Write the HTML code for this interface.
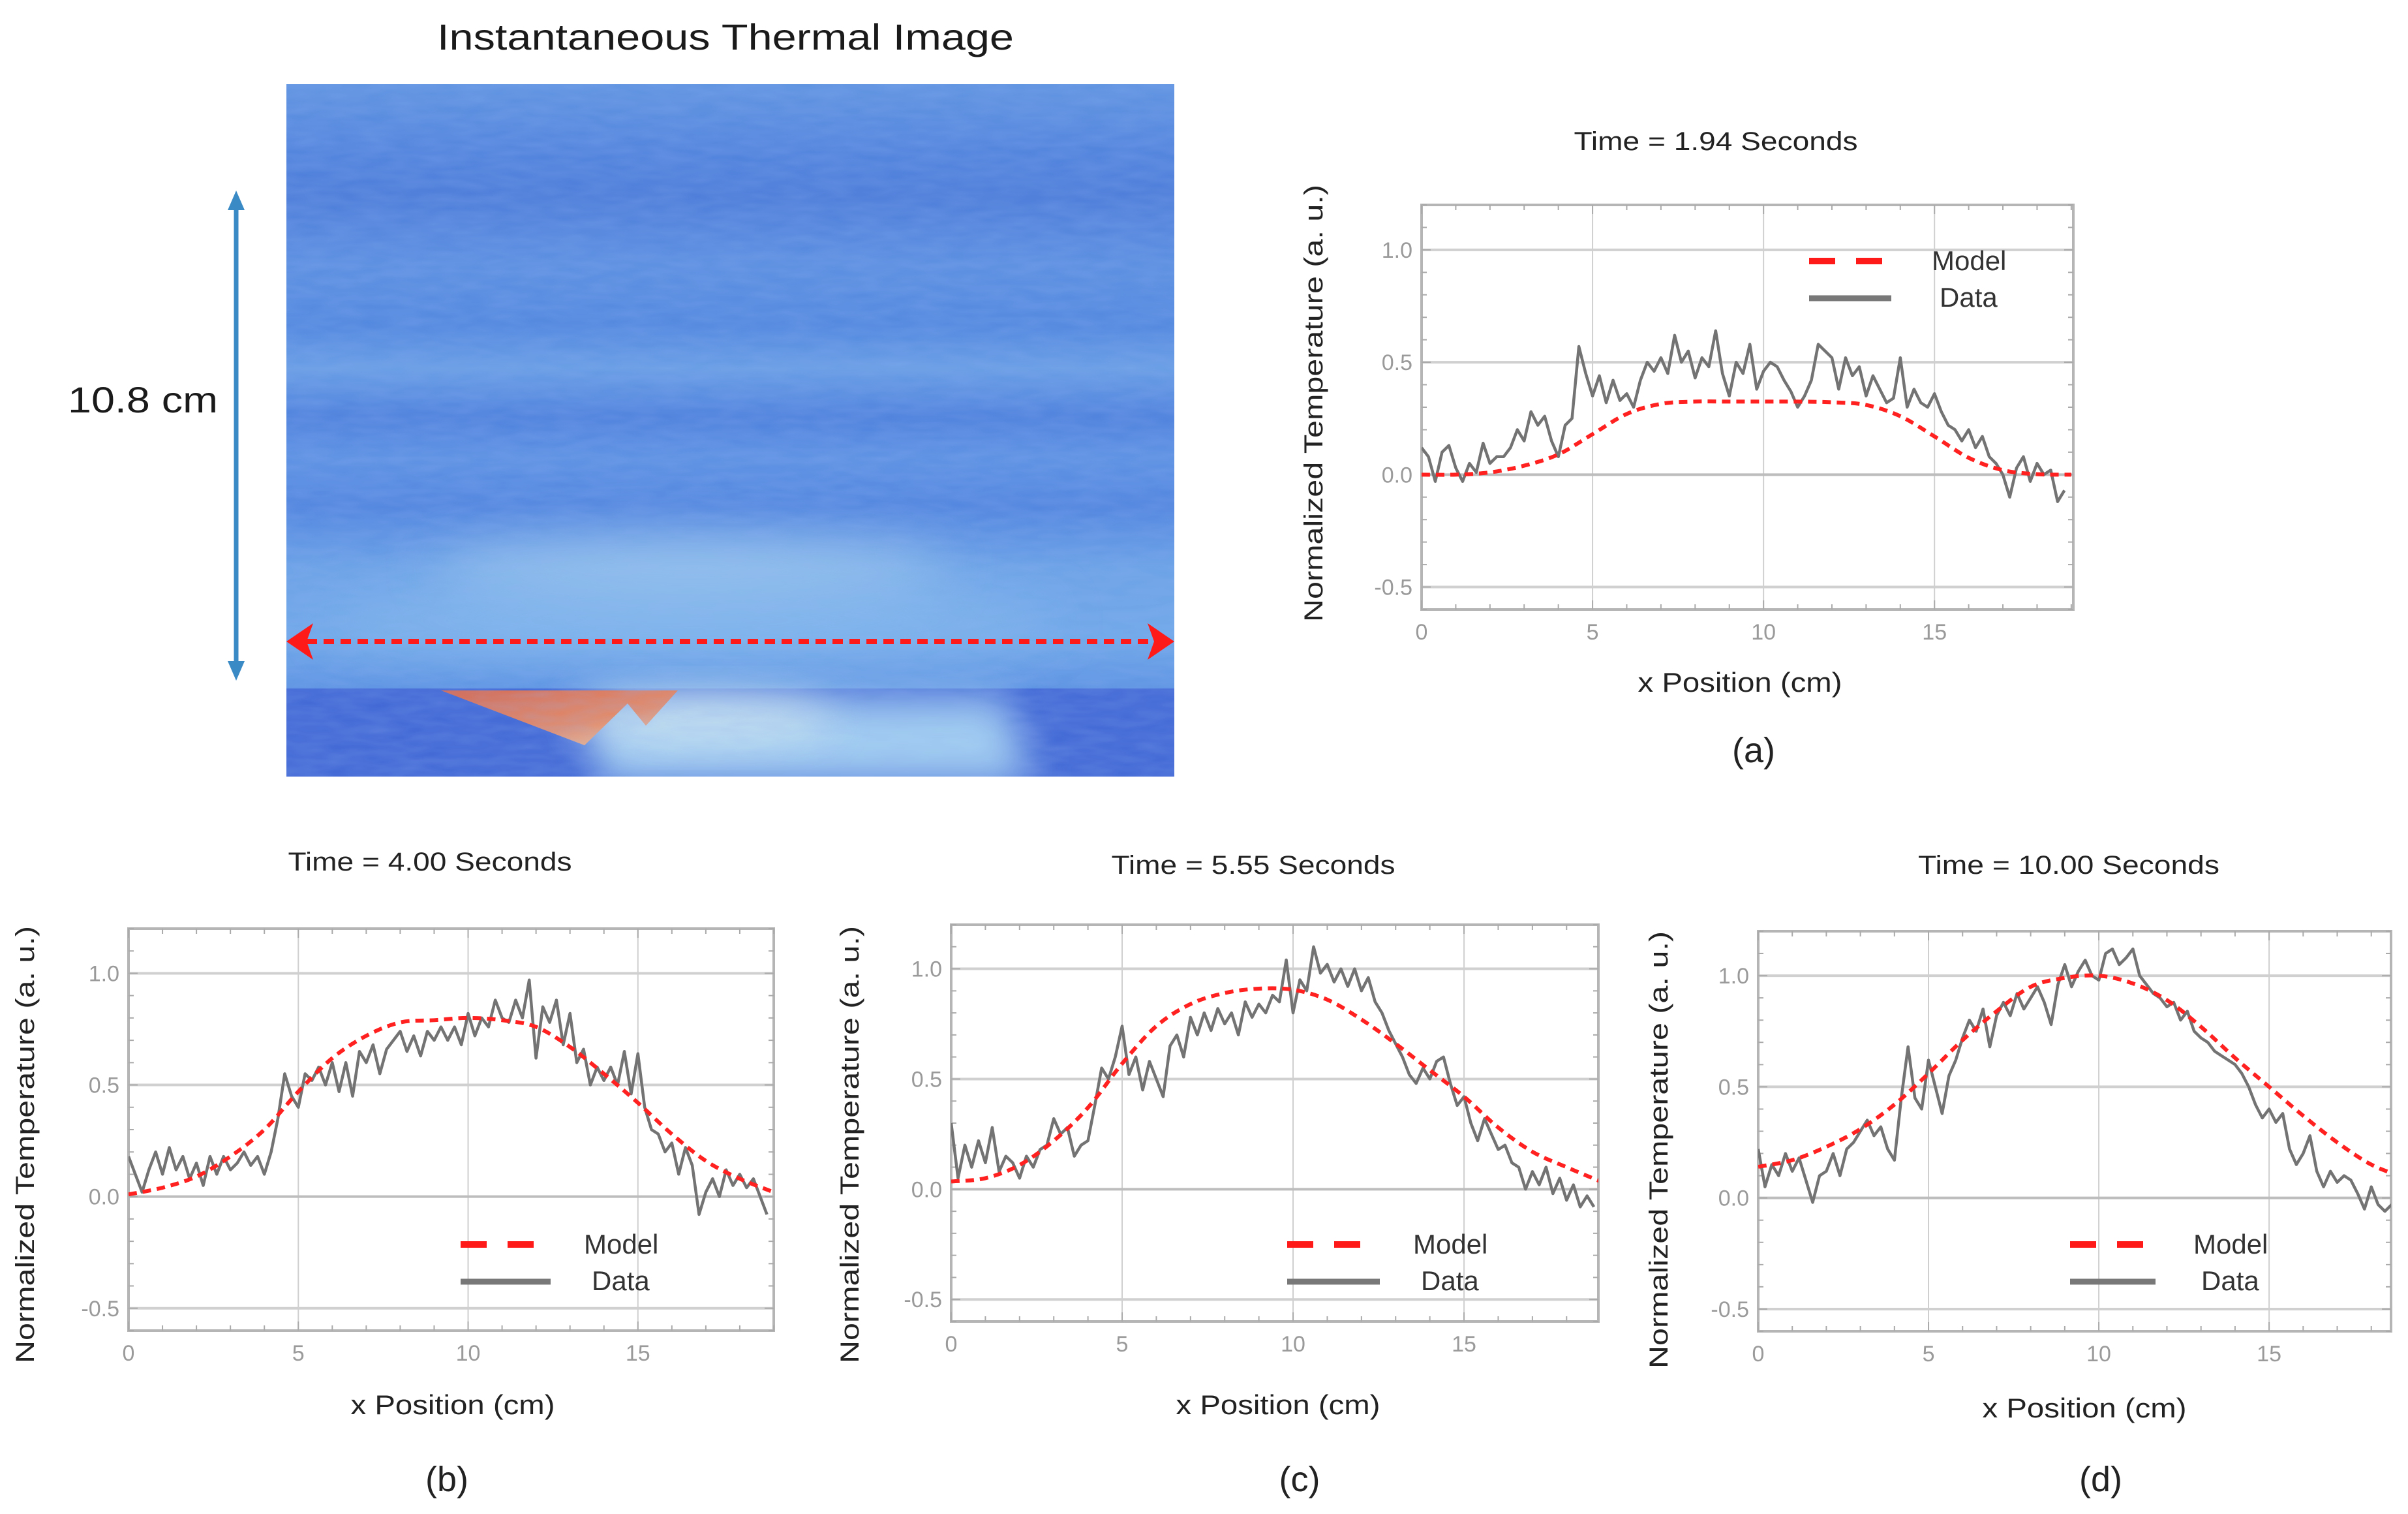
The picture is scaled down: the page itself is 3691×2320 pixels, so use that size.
<!DOCTYPE html>
<html><head><meta charset="utf-8"><style>
html,body{margin:0;padding:0;background:#fff;}
svg{display:block;font-family:"Liberation Sans",sans-serif;}
</style></head><body>
<svg id="fig" width="3691" height="2320" viewBox="0 0 3691 2320" xmlns="http://www.w3.org/2000/svg">
<defs>
<linearGradient id="bgGrad" x1="0" y1="0" x2="0" y2="1">
<stop offset="0" stop-color="#5e93e0"/><stop offset="0.1" stop-color="#4f82dc"/><stop offset="0.16" stop-color="#4a7bd8"/>
<stop offset="0.26" stop-color="#5a8ee0"/><stop offset="0.35" stop-color="#5087de"/><stop offset="0.41" stop-color="#679de4"/>
<stop offset="0.48" stop-color="#4c80dc"/><stop offset="0.54" stop-color="#5b90e2"/><stop offset="0.61" stop-color="#4f84de"/>
<stop offset="0.7" stop-color="#6aa2e6"/><stop offset="0.8" stop-color="#6fa8e8"/><stop offset="0.87" stop-color="#5b93e2"/>
<stop offset="0.9" stop-color="#4a80dc"/><stop offset="1" stop-color="#4a80dc"/>
</linearGradient>
<linearGradient id="hotGrad" x1="0" y1="0" x2="1" y2="1">
<stop offset="0" stop-color="#d8654a"/><stop offset="0.6" stop-color="#e58a66"/><stop offset="1" stop-color="#f4cfa8"/>
</linearGradient>
<filter id="blur1" x="-50%" y="-100%" width="200%" height="300%"><feGaussianBlur stdDeviation="40"/></filter>
<filter id="blur2" x="-30%" y="-50%" width="160%" height="200%"><feGaussianBlur stdDeviation="30"/></filter>
<filter id="noise" x="0" y="0" width="100%" height="100%">
<feTurbulence type="fractalNoise" baseFrequency="0.02 0.08" numOctaves="2" seed="3"/>
<feColorMatrix values="0 0 0 0 0.3  0 0 0 0 0.45  0 0 0 0 0.9  0 0 0 0.3 0"/>
</filter>
<clipPath id="imgClip"><rect x="439" y="129" width="1361" height="1061"/></clipPath>
</defs>

<text x="1112" y="76" font-size="56" text-anchor="middle" fill="#1a1a1a" textLength="884" lengthAdjust="spacingAndGlyphs">Instantaneous Thermal Image</text>

<g clip-path="url(#imgClip)">
<rect x="439" y="129" width="1361" height="1061" fill="url(#bgGrad)"/>
<ellipse cx="1060" cy="870" rx="400" ry="45" fill="#b8dcf0" opacity="0.6" filter="url(#blur1)"/>
<ellipse cx="1060" cy="950" rx="560" ry="60" fill="#8fc2ee" opacity="0.5" filter="url(#blur1)"/>
<rect x="439" y="1055" width="1361" height="140" fill="#3f66d4"/>
<polygon points="900,1070 1540,1070 1580,1200 920,1200" fill="#a3cff0" filter="url(#blur2)"/>
<ellipse cx="1080" cy="1100" rx="200" ry="40" fill="#d9ecef" opacity="0.7" filter="url(#blur2)"/>
<polygon points="676,1058 1039,1058 990,1112 962,1078 896,1142" fill="url(#hotGrad)"/>
<rect x="439" y="129" width="1361" height="1061" filter="url(#noise)"/>
</g>

<g>
<line x1="362" y1="310" x2="362" y2="1025" stroke="#3a8ac6" stroke-width="7"/>
<polygon points="362,292 349,322 375,322" fill="#3a8ac6"/>
<polygon points="362,1043 349,1013 375,1013" fill="#3a8ac6"/>
</g>
<text x="104" y="632" font-size="56" fill="#1a1a1a" textLength="230" lengthAdjust="spacingAndGlyphs">10.8 cm</text>

<g>
<line x1="470" y1="983" x2="1770" y2="983" stroke="#ff1a1a" stroke-width="8" stroke-dasharray="16 10"/>
<polygon points="439,983 480,955 470,983 480,1011" fill="#ff1a1a"/>
<polygon points="1800,983 1759,955 1769,983 1759,1011" fill="#ff1a1a"/>
</g>

<g id="charts"></g>
</svg>
<script>
// ---- data ----
const modelX = [0,1,2,3,4,5,6,7,8,9,10,11,12,13,14,15,16,17,18,19];
const modelA = [0,0,0.01,0.04,0.09,0.18,0.27,0.315,0.325,0.325,0.325,0.325,0.322,0.31,0.26,0.17,0.075,0.02,0.002,0];
const modelB = [0.01,0.04,0.09,0.18,0.30,0.47,0.62,0.72,0.78,0.79,0.80,0.79,0.76,0.67,0.55,0.42,0.28,0.16,0.08,0.02];
const modelC = [0.035,0.05,0.11,0.22,0.37,0.57,0.74,0.84,0.89,0.91,0.905,0.86,0.77,0.66,0.54,0.42,0.28,0.17,0.10,0.035];
const modelD = [0.14,0.17,0.23,0.31,0.42,0.56,0.71,0.84,0.95,0.99,1.0,0.965,0.89,0.77,0.63,0.5,0.37,0.25,0.15,0.09];
const dataStep = 0.2;
const dataA = [0.12,0.08,-0.03,0.1,0.13,0.03,-0.03,0.05,0.01,0.14,0.05,0.08,0.08,0.12,0.2,0.15,0.28,0.22,0.26,0.15,0.08,0.22,0.25,0.57,0.45,0.35,0.44,0.32,0.42,0.33,0.36,0.3,0.42,0.5,0.46,0.52,0.45,0.62,0.5,0.55,0.43,0.52,0.48,0.64,0.45,0.35,0.5,0.45,0.58,0.38,0.46,0.5,0.48,0.42,0.37,0.3,0.35,0.42,0.58,0.55,0.52,0.38,0.52,0.44,0.48,0.35,0.44,0.38,0.32,0.34,0.52,0.3,0.38,0.32,0.3,0.36,0.28,0.22,0.2,0.15,0.2,0.12,0.17,0.08,0.05,0.0,-0.1,0.03,0.08,-0.03,0.05,0.0,0.02,-0.12,-0.07];
const dataB = [0.18,0.1,0.02,0.12,0.2,0.1,0.22,0.12,0.18,0.08,0.15,0.05,0.18,0.1,0.18,0.12,0.15,0.2,0.14,0.18,0.1,0.2,0.35,0.55,0.45,0.4,0.55,0.52,0.58,0.5,0.6,0.47,0.6,0.45,0.65,0.6,0.68,0.55,0.66,0.7,0.74,0.65,0.72,0.63,0.74,0.7,0.76,0.7,0.76,0.68,0.82,0.72,0.8,0.76,0.88,0.8,0.78,0.88,0.8,0.97,0.62,0.85,0.78,0.88,0.68,0.82,0.6,0.66,0.5,0.58,0.52,0.58,0.5,0.65,0.46,0.64,0.4,0.3,0.28,0.2,0.24,0.1,0.22,0.14,-0.08,0.02,0.08,0.0,0.12,0.05,0.1,0.04,0.08,0.0,-0.08];
const dataC = [0.3,0.05,0.2,0.1,0.22,0.12,0.28,0.08,0.15,0.12,0.05,0.15,0.1,0.18,0.2,0.32,0.25,0.28,0.15,0.2,0.22,0.38,0.55,0.5,0.6,0.74,0.52,0.6,0.45,0.58,0.5,0.42,0.65,0.7,0.6,0.78,0.7,0.8,0.72,0.82,0.75,0.8,0.7,0.85,0.78,0.84,0.8,0.88,0.85,1.04,0.8,0.95,0.9,1.1,0.98,1.02,0.94,1.0,0.92,1.0,0.9,0.96,0.85,0.8,0.72,0.66,0.6,0.52,0.48,0.55,0.5,0.58,0.6,0.48,0.38,0.42,0.3,0.22,0.32,0.25,0.18,0.2,0.12,0.1,0.0,0.08,0.02,0.1,-0.02,0.05,-0.05,0.02,-0.08,-0.03,-0.08];
const dataD = [0.22,0.05,0.15,0.1,0.2,0.12,0.18,0.08,-0.02,0.1,0.12,0.2,0.1,0.22,0.25,0.3,0.35,0.28,0.32,0.22,0.17,0.45,0.68,0.45,0.4,0.62,0.5,0.38,0.55,0.62,0.72,0.8,0.75,0.85,0.68,0.82,0.88,0.82,0.92,0.85,0.9,0.95,0.88,0.78,0.96,1.05,0.95,1.02,1.07,1.0,0.98,1.1,1.12,1.05,1.08,1.12,1.0,0.96,0.92,0.9,0.86,0.88,0.8,0.84,0.75,0.72,0.7,0.66,0.64,0.62,0.6,0.56,0.5,0.42,0.36,0.4,0.34,0.38,0.22,0.15,0.2,0.28,0.12,0.05,0.12,0.07,0.1,0.08,0.02,-0.05,0.05,-0.03,-0.06,-0.03];
const xTicks = [0,5,10,15];
const yTicks = [-0.5,0,0.5,1.0];
const yTickLabels = ["-0.5","0.0","0.5","1.0"];

const panels = [
 {id:'a', l:2179,t:314,r:3178,b:934,xmax:19.06, model:modelA, data:dataA, title:'Time = 1.94 Seconds', tx:2630, ty:230, ylx:2013, yly:618, xlx:2667, xly:1060, px:2688, py:1168, lgX1:2773, lgX2:2891, lgY:400, lgTx:2961},
 {id:'b', l:197,t:1423,r:1186,b:2039,xmax:19.0, model:modelB, data:dataB, title:'Time = 4.00 Seconds', tx:659, ty:1334, ylx:38, yly:1754, xlx:694, xly:2167, px:685, py:2285, lgX1:706, lgX2:836, lgY:1907, lgTx:895},
 {id:'c', l:1458,t:1417,r:2450,b:2025,xmax:18.93, model:modelC, data:dataC, title:'Time = 5.55 Seconds', tx:1921, ty:1339, ylx:1302, yly:1754, xlx:1959, xly:2167, px:1992, py:2285, lgX1:1973, lgX2:2107, lgY:1907, lgTx:2166},
 {id:'d', l:2695,t:1427,r:3665,b:2040,xmax:18.58, model:modelD, data:dataD, title:'Time = 10.00 Seconds', tx:3171, ty:1339, ylx:2542, yly:1762, xlx:3195, xly:2172, px:3220, py:2285, lgX1:3173, lgX2:3296, lgY:1907, lgTx:3362}
];
const NS='http://www.w3.org/2000/svg';
const root=document.getElementById('charts');
function mk(tag,attrs,parent){const e=document.createElementNS(NS,tag);for(const k in attrs)e.setAttribute(k,attrs[k]);parent.appendChild(e);return e;}
function smoothPath(pts){
 let d='M'+pts[0][0]+','+pts[0][1];
 for(let i=0;i<pts.length-1;i++){
  const p0=pts[i-1]||pts[i],p1=pts[i],p2=pts[i+1],p3=pts[i+2]||p2;
  const c1=[p1[0]+(p2[0]-p0[0])/6,p1[1]+(p2[1]-p0[1])/6];
  const c2=[p2[0]-(p3[0]-p1[0])/6,p2[1]-(p3[1]-p1[1])/6];
  d+=' C'+c1[0]+','+c1[1]+' '+c2[0]+','+c2[1]+' '+p2[0]+','+p2[1];
 }
 return d;
}
panels.forEach(p=>{
 const g=mk('g',{},root);
 
 
 const yMin=-0.6,yMax=1.2;
 const X=v=>p.l+(v/p.xmax)*(p.r-p.l);
 const Y=v=>p.b-(v-yMin)/(yMax-yMin)*(p.b-p.t);
 const cp=mk('clipPath',{id:'clip'+p.id},g);
 mk('rect',{x:p.l,y:p.t,width:p.r-p.l,height:p.b-p.t},cp);
 xTicks.forEach(v=>{ if(v>0){const ln=mk('line',{x1:X(v),x2:X(v),y1:p.t,y2:p.b,stroke:'#cfcfcf','stroke-width':2},g);
  }});
 yTicks.forEach(v=>{const ln=mk('line',{x1:p.l,x2:p.r,y1:Y(v),y2:Y(v),stroke:v===0?'#bdbdbd':'#d0d0d0','stroke-width':4},g);
  });
 const fr=mk('rect',{x:p.l,y:p.t,width:p.r-p.l,height:p.b-p.t,fill:'none',stroke:'#b5b5b5','stroke-width':4},g);
 
 let tk='';
 for(let v=0;v<=p.xmax;v+=1){const x=X(v),L=(v%5===0)?14:8;tk+=`M${x},${p.b}v${-L}M${x},${p.t}v${L}`;}
 for(let k=-6;k<=12;k++){const v=k/10,y=Y(v),L=(k%5===0)?14:8;tk+=`M${p.l},${y}h${L}M${p.r},${y}h${-L}`;}
 const tp=mk('path',{d:tk,stroke:'#aaaaaa','stroke-width':2,fill:'none'},g);
 
 xTicks.forEach(v=>{const t=mk('text',{x:X(v),y:p.b+46,'font-size':34,fill:'#9a9a9a','text-anchor':'middle'},g);t.textContent=String(v);
  });
 yTicks.forEach((v,i)=>{const t=mk('text',{x:p.l-14,y:Y(v)+12,'font-size':34,fill:'#9a9a9a','text-anchor':'end'},g);t.textContent=yTickLabels[i];
  });
 const dpts=p.data.map((v,i)=>X(i*dataStep).toFixed(1)+','+Y(v).toFixed(1)).join(' ');
 const dl=mk('polyline',{points:dpts,fill:'none',stroke:'#737373','stroke-width':4.5,'stroke-linejoin':'round','clip-path':`url(#clip${p.id})`},g);
 
 const mpts=p.model.map((v,i)=>[X(modelX[i]),Y(v)]);
 const ml=mk('path',{d:smoothPath(mpts),fill:'none',stroke:'#ff2020','stroke-width':6,'stroke-dasharray':'13 9','clip-path':`url(#clip${p.id})`},g);
 
 const lg=mk('g',{},g);
 
 mk('line',{x1:p.lgX1,x2:p.lgX2,y1:p.lgY,y2:p.lgY,stroke:'#ff1a1a','stroke-width':10,'stroke-dasharray':'40 32'},lg);
 mk('line',{x1:p.lgX1,x2:p.lgX2+8,y1:p.lgY+57,y2:p.lgY+57,stroke:'#787878','stroke-width':9},lg);
 const t1=mk('text',{x:p.lgTx,y:p.lgY+14,'font-size':42,fill:'#333'},lg);t1.textContent='Model';
 
 const t2=mk('text',{x:p.lgTx+12,y:p.lgY+70,'font-size':42,fill:'#333'},lg);t2.textContent='Data';
 
 const tt=mk('text',{x:p.tx,y:p.ty,'font-size':40,fill:'#222','text-anchor':'middle',textLength:p.id==='d'?462:435,lengthAdjust:'spacingAndGlyphs'},g);tt.textContent=p.title;
 
 const xl=mk('text',{x:p.xlx,y:p.xly,'font-size':42,fill:'#222','text-anchor':'middle',textLength:313,lengthAdjust:'spacingAndGlyphs'},g);xl.textContent='x Position (cm)';
 
 const yl=mk('text',{x:p.ylx,y:p.yly,'font-size':40,fill:'#222','text-anchor':'middle',transform:`rotate(-90 ${p.ylx} ${p.yly})`,dy:14,textLength:670,lengthAdjust:'spacingAndGlyphs'},g);yl.textContent='Normalized Temperature  (a. u.)';
 
 const pl=mk('text',{x:p.px,y:p.py,'font-size':54,fill:'#222','text-anchor':'middle'},g);pl.textContent='('+p.id+')';
 
});
</script>
</body></html>
